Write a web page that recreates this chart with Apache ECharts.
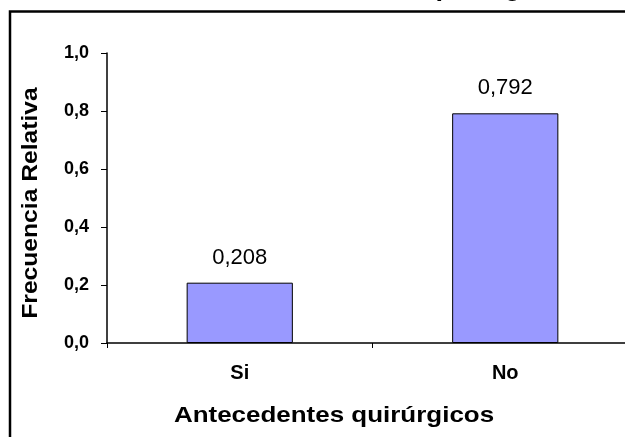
<!DOCTYPE html>
<html lang="es">
<head>
    <meta charset="UTF-8"/>
    <title>Antecedentes quirúrgicos</title>
    <script type="text/javascript" src="https://cdn.jsdelivr.net/npm/echarts@6/dist/echarts.min.js"></script>
    <style>
        html, body { margin: 0; padding: 0; background: #fff; }
    </style>
</head>
<body>
<div id="main" style="width: 625px;height: 437px"></div>
<script type="text/javascript">
    // datos
    var categorias = ['Si', 'No'];
    var frecuencias = [0.208, 0.792];
    var ticksY = [0, 0.2, 0.4, 0.6, 0.8, 1.0];

    var fuente = '"Liberation Sans", Arial, sans-serif';
    function coma(v, d) {
        return Number(v).toFixed(d).replace('.', ',');
    }

    var myChart = echarts.init(document.getElementById('main'));

    var option = {
        backgroundColor: '#fff',
        animation: false,
        grid: {
            left: 107,
            top: 53,
            width: 531,
            height: 290,
            outerBoundsMode: 'none'
        },
        xAxis: {
            type: 'category',
            data: categorias,
            axisLine: { lineStyle: { color: '#000', width: 1.5 } },
            axisTick: { show: true, length: 5, lineStyle: { color: '#000', width: 1 } },
            axisLabel: {
                margin: 20,
                color: '#000',
                fontFamily: fuente,
                fontWeight: 'bold',
                fontSize: 20
            }
        },
        yAxis: {
            type: 'value',
            min: ticksY[0],
            max: ticksY[ticksY.length - 1],
            interval: 0.2,
            splitLine: { show: false },
            axisLine: { show: true, lineStyle: { color: '#000', width: 1.5 } },
            axisTick: { show: true, length: 6, lineStyle: { color: '#000', width: 1 } },
            axisLabel: {
                margin: 18,
                color: '#000',
                fontFamily: fuente,
                fontWeight: 'bold',
                fontSize: 18,
                formatter: function (v) { return coma(v, 1); }
            }
        },
        series: [{
            name: 'Frecuencia Relativa',
            type: 'bar',
            data: frecuencias,
            barWidth: '40%',
            itemStyle: { color: '#9999FF', borderColor: '#000', borderWidth: 1 },
            label: {
                show: true,
                position: 'top',
                distance: 14,
                color: '#000',
                fontFamily: fuente,
                fontSize: 22,
                formatter: function (p) { return coma(p.value, 3); }
            }
        }],
        graphic: [
            // marco del grafico (se sale por la derecha y por abajo)
            {
                type: 'rect',
                shape: { x: 10, y: 11.5, width: 700, height: 500 },
                style: { fill: 'none', stroke: '#000', lineWidth: 2.5 },
                silent: true
            },
            // titulo recortado arriba, solo asoman los descendentes
            {
                type: 'text',
                x: 575,
                y: -12.5,
                style: {
                    text: 'Antecedentes quirúrgicos',
                    align: 'right',
                    verticalAlign: 'middle',
                    fill: '#000',
                    font: 'bold 27px ' + fuente
                }
            },
            {
                type: 'text',
                x: 334,
                y: 416,
                scaleX: 1.18,
                style: {
                    text: 'Antecedentes quirúrgicos',
                    align: 'center',
                    verticalAlign: 'middle',
                    fill: '#000',
                    font: 'bold 22px ' + fuente
                }
            },
            {
                type: 'text',
                x: 31,
                y: 203,
                rotation: Math.PI / 2,
                scaleX: 1.12,
                style: {
                    text: 'Frecuencia Relativa',
                    align: 'center',
                    verticalAlign: 'middle',
                    fill: '#000',
                    font: 'bold 22px ' + fuente
                }
            }
        ]
    };

    myChart.setOption(option);
</script>
</body>
</html>
